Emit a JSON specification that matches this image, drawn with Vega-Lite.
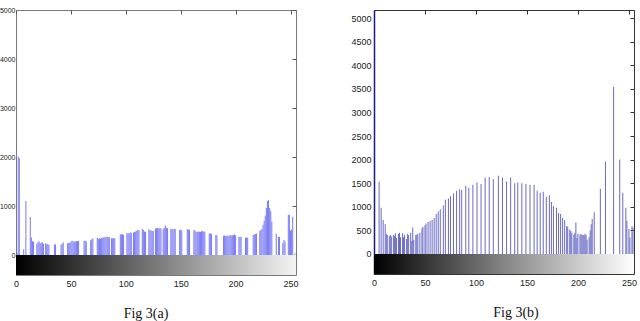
{
"$schema":"https://vega.github.io/schema/vega-lite/v6.json",
"padding":{"left":-2,"top":5,"right":0,"bottom":0},
"background":"white",
"bounds":"flush",
"spacing":78,
"config":{"axis":{"labelFont":"Liberation Sans Narrow, Liberation Sans","labelColor":"#222","grid":false,"title":null,"format":"d","labelOverlap":false}},
"datasets":{
"a":[{"v":1,"n":40},{"v":2,"n":2010},{"v":3,"n":1980},{"v":7,"n":115},{"v":9,"n":1100},{"v":13,"n":775},{"v":14,"n":355},{"v":15,"n":280},{"v":16,"n":270},{"v":19,"n":230},{"v":20,"n":260},{"v":21,"n":280},{"v":22,"n":240},{"v":23,"n":250},{"v":24,"n":260},{"v":25,"n":230},{"v":27,"n":240},{"v":28,"n":220},{"v":29,"n":225},{"v":30,"n":210},{"v":35,"n":220},{"v":36,"n":215},{"v":41,"n":210},{"v":42,"n":230},{"v":43,"n":260},{"v":47,"n":240},{"v":48,"n":240},{"v":49,"n":250},{"v":50,"n":270},{"v":51,"n":290},{"v":52,"n":280},{"v":53,"n":270},{"v":54,"n":280},{"v":55,"n":280},{"v":56,"n":280},{"v":57,"n":290},{"v":62,"n":290},{"v":63,"n":290},{"v":64,"n":280},{"v":68,"n":300},{"v":69,"n":320},{"v":70,"n":340},{"v":74,"n":350},{"v":75,"n":330},{"v":76,"n":340},{"v":77,"n":330},{"v":78,"n":350},{"v":79,"n":350},{"v":80,"n":360},{"v":81,"n":360},{"v":82,"n":370},{"v":83,"n":380},{"v":84,"n":360},{"v":85,"n":370},{"v":87,"n":340},{"v":88,"n":340},{"v":89,"n":345},{"v":90,"n":340},{"v":95,"n":420},{"v":96,"n":430},{"v":97,"n":420},{"v":98,"n":410},{"v":101,"n":445},{"v":102,"n":450},{"v":103,"n":440},{"v":104,"n":460},{"v":105,"n":455},{"v":107,"n":460},{"v":108,"n":470},{"v":109,"n":480},{"v":110,"n":500},{"v":111,"n":510},{"v":112,"n":505},{"v":115,"n":530},{"v":116,"n":510},{"v":117,"n":480},{"v":118,"n":475},{"v":121,"n":520},{"v":122,"n":515},{"v":123,"n":500},{"v":124,"n":490},{"v":125,"n":490},{"v":127,"n":540},{"v":128,"n":545},{"v":129,"n":550},{"v":130,"n":540},{"v":131,"n":550},{"v":132,"n":545},{"v":134,"n":530},{"v":135,"n":550},{"v":136,"n":600},{"v":137,"n":560},{"v":138,"n":545},{"v":141,"n":530},{"v":142,"n":530},{"v":143,"n":525},{"v":144,"n":535},{"v":145,"n":530},{"v":149,"n":510},{"v":150,"n":515},{"v":151,"n":505},{"v":156,"n":525},{"v":157,"n":520},{"v":158,"n":515},{"v":162,"n":505},{"v":163,"n":505},{"v":164,"n":475},{"v":165,"n":470},{"v":166,"n":480},{"v":167,"n":475},{"v":168,"n":470},{"v":169,"n":490},{"v":170,"n":485},{"v":171,"n":480},{"v":172,"n":475},{"v":176,"n":440},{"v":177,"n":440},{"v":178,"n":430},{"v":182,"n":410},{"v":183,"n":405},{"v":189,"n":395},{"v":190,"n":400},{"v":191,"n":390},{"v":192,"n":395},{"v":193,"n":400},{"v":194,"n":390},{"v":195,"n":410},{"v":196,"n":400},{"v":197,"n":405},{"v":198,"n":410},{"v":199,"n":420},{"v":200,"n":400},{"v":203,"n":375},{"v":204,"n":370},{"v":205,"n":375},{"v":209,"n":355},{"v":210,"n":350},{"v":211,"n":355},{"v":216,"n":410},{"v":217,"n":420},{"v":218,"n":430},{"v":219,"n":440},{"v":222,"n":490},{"v":223,"n":510},{"v":224,"n":530},{"v":225,"n":620},{"v":226,"n":700},{"v":227,"n":800},{"v":228,"n":960},{"v":229,"n":1100},{"v":230,"n":1120},{"v":231,"n":960},{"v":232,"n":900},{"v":233,"n":680},{"v":237,"n":440},{"v":239,"n":375},{"v":240,"n":370},{"v":243,"n":240},{"v":244,"n":305},{"v":245,"n":270},{"v":248,"n":815},{"v":249,"n":820},{"v":250,"n":500},{"v":251,"n":520},{"v":252,"n":780},{"v":254,"n":30}],
"b":[{"v":5,"n":1530},{"v":7,"n":980},{"v":9,"n":720},{"v":11,"n":630},{"v":12,"n":430},{"v":13,"n":400},{"v":15,"n":375},{"v":16,"n":410},{"v":17,"n":370},{"v":19,"n":410},{"v":20,"n":385},{"v":21,"n":440},{"v":22,"n":340},{"v":24,"n":430},{"v":25,"n":450},{"v":26,"n":355},{"v":28,"n":440},{"v":29,"n":355},{"v":30,"n":410},{"v":32,"n":320},{"v":33,"n":430},{"v":34,"n":400},{"v":36,"n":450},{"v":37,"n":280},{"v":38,"n":560},{"v":39,"n":300},{"v":41,"n":400},{"v":42,"n":410},{"v":43,"n":430},{"v":45,"n":450},{"v":47,"n":545},{"v":48,"n":575},{"v":50,"n":610},{"v":51,"n":645},{"v":53,"n":680},{"v":55,"n":700},{"v":57,"n":720},{"v":59,"n":760},{"v":61,"n":850},{"v":63,"n":900},{"v":65,"n":950},{"v":68,"n":1030},{"v":70,"n":1150},{"v":73,"n":1175},{"v":75,"n":1225},{"v":78,"n":1280},{"v":81,"n":1340},{"v":84,"n":1370},{"v":86,"n":1355},{"v":90,"n":1440},{"v":93,"n":1405},{"v":97,"n":1465},{"v":101,"n":1515},{"v":105,"n":1485},{"v":109,"n":1620},{"v":113,"n":1630},{"v":117,"n":1585},{"v":122,"n":1660},{"v":126,"n":1620},{"v":130,"n":1535},{"v":134,"n":1620},{"v":138,"n":1500},{"v":141,"n":1515},{"v":145,"n":1500},{"v":149,"n":1485},{"v":153,"n":1465},{"v":157,"n":1465},{"v":160,"n":1340},{"v":163,"n":1300},{"v":166,"n":1320},{"v":169,"n":1210},{"v":172,"n":1245},{"v":174,"n":1100},{"v":176,"n":1015},{"v":179,"n":980},{"v":181,"n":870},{"v":183,"n":850},{"v":185,"n":760},{"v":187,"n":720},{"v":189,"n":595},{"v":190,"n":575},{"v":192,"n":520},{"v":193,"n":485},{"v":194,"n":450},{"v":196,"n":410},{"v":197,"n":450},{"v":198,"n":665},{"v":199,"n":340},{"v":200,"n":430},{"v":202,"n":410},{"v":203,"n":430},{"v":204,"n":400},{"v":205,"n":410},{"v":206,"n":400},{"v":207,"n":430},{"v":208,"n":400},{"v":209,"n":300},{"v":211,"n":355},{"v":212,"n":500},{"v":213,"n":630},{"v":214,"n":740},{"v":216,"n":885},{"v":222,"n":1380},{"v":227,"n":1960},{"v":235,"n":3540},{"v":241,"n":2000},{"v":244,"n":1300},{"v":247,"n":980},{"v":248,"n":700},{"v":250,"n":530},{"v":251,"n":350},{"v":253,"n":590},{"v":254,"n":560}]
},
"hconcat":[
{
"width":280,"height":265,
"view":{"stroke":"#7a7a7a"},
"title":{"text":"Fig 3(a)","orient":"bottom","font":"Liberation Serif","fontSize":14,"fontWeight":"normal","color":"#111","dx":-10,"offset":30,"baseline":"alphabetic"},
"layer":[
{"data":{"values":[{}]},
"mark":{"type":"rect","color":{"gradient":"linear","stops":[{"offset":0,"color":"#000000"},{"offset":0.5,"color":"#7a7a7a"},{"offset":1,"color":"#f4f4f4"}]}},
"encoding":{
"x":{"datum":0,"type":"quantitative","scale":{"domain":[0,255],"padding":0,"nice":false,"zero":false},"axis":{"orient":"top","values":[0,50,100,150,200,250],"labels":false,"domain":false,"ticks":true,"tickSize":-4,"tickColor":"#555"}},
"x2":{"datum":255},
"y":{"datum":0,"type":"quantitative","scale":{"domain":[-408,5000],"nice":false},"axis":{"orient":"right","values":[0,1000,2000,3000,4000,5000],"labels":false,"domain":false,"ticks":true,"tickSize":-4,"tickColor":"#555"}},
"y2":{"datum":-408}}},
{"data":{"name":"a"},
"mark":{"type":"bar","width":1,"color":"#7a7af5"},
"encoding":{
"x":{"field":"v","type":"quantitative","axis":{"orient":"bottom","values":[0,50,100,150,200,250],"ticks":false,"domain":false,"labelPadding":4,"labelFontSize":9,"labelFlush":false}},
"y":{"field":"n","type":"quantitative","axis":{"orient":"left","values":[0,1000,2000,3000,4000,5000],"ticks":false,"domain":false,"labelPadding":1,"labelFontSize":7}}}}
],
"resolve":{"axis":{"x":"independent","y":"independent"}}
},
{
"width":260,"height":264,
"view":{"stroke":"#333"},
"title":{"text":"Fig 3(b)","orient":"bottom","font":"Liberation Serif","fontSize":14,"fontWeight":"normal","color":"#111","dx":12,"offset":30,"baseline":"alphabetic"},
"layer":[
{"data":{"values":[{}]},
"mark":{"type":"rect","color":{"gradient":"linear","stops":[{"offset":0,"color":"#000000"},{"offset":0.5,"color":"#858585"},{"offset":1,"color":"#ffffff"}]}},
"encoding":{
"x":{"datum":0,"type":"quantitative","scale":{"domain":[0,255],"padding":0,"nice":false,"zero":false},"axis":{"orient":"top","values":[0,50,100,150,200,250],"labels":false,"domain":false,"ticks":true,"tickSize":-4,"tickColor":"#333"}},
"x2":{"datum":255},
"y":{"datum":0,"type":"quantitative","scale":{"domain":[-424,5170],"nice":false},"axis":{"orient":"right","values":[0,500,1000,1500,2000,2500,3000,3500,4000,4500,5000],"labels":false,"domain":false,"ticks":true,"tickSize":-4,"tickColor":"#333"}},
"y2":{"datum":-424}}},
{"data":{"name":"b"},
"mark":{"type":"bar","width":1,"color":"#6a6ac4"},
"encoding":{
"x":{"field":"v","type":"quantitative","axis":{"orient":"bottom","values":[0,50,100,150,200,250],"ticks":false,"domain":false,"labelPadding":4,"labelFontSize":9,"labelFlush":false}},
"y":{"field":"n","type":"quantitative","axis":{"orient":"left","values":[0,500,1000,1500,2000,2500,3000,3500,4000,4500,5000],"ticks":false,"domain":true,"domainColor":"#1a1a80","domainWidth":1.5,"labelPadding":3,"labelFontSize":9}}}}
],
"resolve":{"axis":{"x":"independent","y":"independent"}}
}
]
}
